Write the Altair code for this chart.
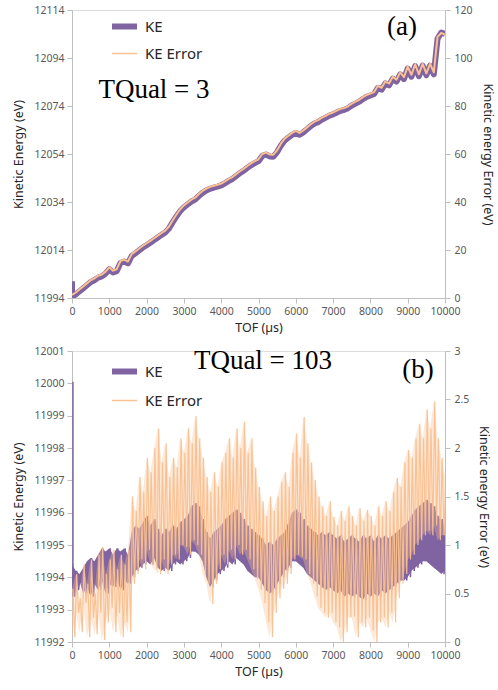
import altair as alt
import pandas as pd

PURPLE = "#8064A2"
ORANGE = "#FAC090"
SERIES = ["KE", "KE Error"]
LEGEND_WIDTHS = [6, 1.5]

X_TICKS = [0, 1000, 2000, 3000, 4000, 5000, 6000, 7000, 8000, 9000, 10000]
TOF = list(range(0, 10001, 100))  # sampling grid of the read values

# ---------- panel (a): TQual = 3 ----------
KE_A_SPIKE = 12001.0
KE_A = [
    11994.5, 11995.5, 11996.8, 11998.0, 11999.3, 12000.6, 12001.4, 12002.5, 12003.0, 12004.2,
    12006.0, 12004.6, 12005.2, 12008.6, 12009.2, 12008.4, 12011.5, 12012.6, 12013.8, 12015.0,
    12016.0, 12017.0, 12018.1, 12019.2, 12020.3, 12021.3, 12023.0, 12025.6, 12028.0, 12030.2,
    12031.8, 12033.0, 12034.2, 12035.0, 12036.5, 12037.8, 12038.8, 12039.5, 12040.0, 12040.4,
    12040.9, 12041.8, 12042.8, 12043.6, 12044.8, 12046.0, 12047.0, 12048.2, 12049.3, 12050.2,
    12051.0, 12053.2, 12053.8, 12053.0, 12052.9, 12054.8, 12057.5, 12059.6, 12060.8, 12062.0,
    12062.8, 12062.0, 12063.0, 12064.3, 12065.6, 12066.7, 12067.3, 12068.4, 12069.1, 12070.0,
    12070.5, 12071.3, 12072.0, 12072.4, 12073.1, 12074.2, 12075.0, 12075.8, 12076.9, 12077.8,
    12078.4, 12079.0, 12081.6, 12080.8, 12083.4, 12082.6, 12085.4, 12084.2, 12087.2, 12085.2,
    12089.6, 12086.2, 12090.6, 12086.4, 12090.8, 12086.8, 12090.8, 12087.2, 12102.0, 12104.6,
    12104.0,
]
ERR_A = [
    1.3, 2.3, 3.6, 4.8, 6.1, 7.4, 8.2, 9.3, 9.8, 11.0,
    12.8, 11.4, 12.0, 15.4, 16.0, 15.2, 18.3, 19.4, 20.6, 21.8,
    22.8, 23.8, 24.9, 26.0, 27.1, 28.1, 29.8, 32.4, 34.8, 37.0,
    38.6, 39.8, 41.0, 41.8, 43.3, 44.6, 45.6, 46.3, 46.8, 47.2,
    47.7, 48.6, 49.6, 50.4, 51.6, 52.8, 53.8, 55.0, 56.1, 57.0,
    57.8, 60.0, 60.6, 59.8, 59.7, 61.6, 64.3, 66.4, 67.6, 68.8,
    69.6, 68.8, 69.8, 71.1, 72.4, 73.5, 74.1, 75.2, 75.9, 76.8,
    77.3, 78.1, 78.8, 79.2, 79.9, 81.0, 81.8, 82.6, 83.7, 84.6,
    85.2, 85.8, 88.4, 87.6, 90.2, 89.4, 92.2, 91.0, 94.0, 92.0,
    96.4, 93.0, 97.4, 93.2, 97.6, 93.6, 97.6, 94.0, 108.8, 110.4,
    109.8,
]
KE_A_TICKS = [11994, 12014, 12034, 12054, 12074, 12094, 12114]
ERR_A_TICKS = [0, 20, 40, 60, 80, 100, 120]

# ---------- panel (b): TQual = 103 ----------
KE_B_SPIKE = 12000.05
KE_B_HI = [
    11994.4, 11994.2, 11994.1, 11994.3, 11994.5, 11994.6, 11994.5, 11994.7, 11994.9, 11994.8,
    11994.9, 11994.7, 11994.9, 11994.8, 11994.9, 11994.7, 11995.4, 11995.6, 11995.5, 11995.7,
    11995.9, 11995.6, 11995.8, 11995.5, 11995.3, 11995.5, 11995.4, 11995.6, 11995.5, 11995.7,
    11995.8, 11995.9, 11996.2, 11996.3, 11996.2, 11995.8, 11995.4, 11995.2, 11995.4, 11995.5,
    11995.6, 11995.8, 11995.9, 11996.0, 11996.1, 11996.0, 11995.8, 11995.6, 11995.5, 11995.4,
    11995.3, 11995.2, 11995.0, 11995.1, 11995.0, 11995.2, 11995.3, 11995.4, 11995.7, 11996.0,
    11996.1, 11996.0, 11995.8, 11995.6, 11995.5, 11995.4, 11995.3, 11995.4, 11995.3, 11995.4,
    11995.3, 11995.2, 11995.3, 11995.1, 11995.2, 11995.3, 11995.2, 11995.1, 11995.3, 11995.2,
    11995.3, 11995.1, 11995.3, 11995.2, 11995.3, 11995.2, 11995.3, 11995.4, 11995.5, 11995.6,
    11995.7, 11995.9, 11996.1, 11996.2, 11996.3, 11996.4, 11996.3, 11996.2, 11995.9, 11995.8,
    11995.6,
]
KE_B_LO = [
    11993.4, 11993.6, 11993.9, 11993.5, 11993.7, 11993.4, 11993.8, 11993.6, 11993.9, 11993.5,
    11993.8, 11993.7, 11994.0, 11993.6, 11993.9, 11993.8, 11994.0, 11994.2, 11994.3, 11994.4,
    11994.5, 11994.4, 11994.6, 11994.3, 11994.2, 11994.3, 11994.2, 11994.4, 11994.5, 11994.4,
    11994.5, 11994.6, 11994.8, 11994.8, 11994.7, 11994.5, 11994.0, 11993.7, 11993.9, 11994.1,
    11994.2, 11994.3, 11994.5, 11994.4, 11994.6, 11994.5, 11994.4, 11994.2, 11994.1, 11994.0,
    11994.0, 11993.8, 11993.6, 11993.5, 11993.6, 11993.8, 11994.0, 11994.2, 11994.3, 11994.5,
    11994.5, 11994.4, 11994.3, 11994.1, 11994.0, 11993.9, 11993.8, 11993.7, 11993.6, 11993.7,
    11993.6, 11993.5, 11993.6, 11993.4, 11993.5, 11993.4, 11993.5, 11993.4, 11993.3, 11993.5,
    11993.4, 11993.5, 11993.4, 11993.6, 11993.5, 11993.6, 11993.7, 11993.8, 11993.9, 11993.9,
    11994.0, 11994.2, 11994.3, 11994.4, 11994.5, 11994.5, 11994.4, 11994.3, 11994.2, 11994.1,
    11994.2,
]
ERR_B_HI = [
    0.55, 0.7, 0.45, 0.8, 0.6, 0.85, 0.5, 0.9, 0.98, 0.7,
    0.85, 0.95, 0.75, 0.9, 0.8, 0.95, 1.5, 1.35, 1.7, 1.55,
    1.9, 1.75, 2.0, 2.2, 1.85, 2.05, 1.7, 1.9, 1.8, 2.1,
    1.95, 2.2, 2.05, 2.33, 2.1, 1.9, 1.7, 1.55, 1.75, 1.6,
    1.85, 1.95, 2.1, 1.9, 2.2, 2.0, 2.27, 1.95, 2.1, 1.8,
    1.6, 1.45, 1.3, 1.5, 1.35, 1.5, 1.65, 1.75, 1.6, 1.95,
    2.15, 1.9, 2.32, 2.05, 1.85, 1.67, 1.5, 1.4, 1.3, 1.45,
    1.29, 1.2, 1.35, 1.25, 1.4, 1.3, 1.2, 1.38, 1.25, 1.36,
    1.3, 1.2, 1.4, 1.3, 1.45, 1.35, 1.55, 1.69, 1.6, 1.85,
    1.98, 1.9, 2.1, 2.25, 2.1, 2.4, 2.2, 2.48, 2.1, 1.9,
    1.7,
]
ERR_B_LO = [
    0.05, 0.3, 0.1, 0.4, 0.05, 0.25, 0.08, 0.3, 0.02, 0.2,
    0.35, 0.1, 0.3, 0.05, 0.2, 0.1, 0.6, 0.7, 0.85, 0.75,
    0.95, 0.8, 0.75, 0.7, 0.85, 0.7, 0.8, 0.9, 0.85, 1.0,
    0.98, 0.9, 1.05, 1.0, 0.9, 0.7, 0.6, 0.39, 0.6, 0.75,
    0.9, 0.8, 0.95, 0.85, 1.0, 0.9, 0.95, 0.85, 0.75, 0.65,
    0.54, 0.4, 0.2, 0.05, 0.3, 0.45, 0.55, 0.6, 0.7, 0.85,
    0.9, 0.88, 0.85, 0.7, 0.6, 0.47, 0.35, 0.3, 0.25, 0.3,
    0.2, 0.15, 0.0, 0.1, 0.25, 0.26, 0.05, 0.2, 0.15, 0.25,
    0.12, 0.0, 0.2, 0.25, 0.15, 0.3, 0.2, 0.45, 0.6, 0.7,
    0.85, 0.9, 1.0, 1.05, 1.1, 1.15, 1.1, 1.2, 1.05, 1.1,
    1.1,
]
KE_B_TICKS = [11992, 11993, 11994, 11995, 11996, 11997, 11998, 11999, 12000, 12001]
ERR_B_TICKS = [0, 0.5, 1, 1.5, 2, 2.5, 3]

# ---------- tables ----------
def rows_simple(ts, vs, spike=None):
    out = []
    if spike is not None:
        out.append({"t": ts[0], "v": spike})
    for t, v in zip(ts, vs):
        out.append({"t": t, "v": v})
    for i, r in enumerate(out):
        r["i"] = i
    return pd.DataFrame(out)

def rows_zigzag(ts, hi, lo, spike=None):
    out = []
    if spike is not None:
        out.append({"t": ts[0] + 25, "v": spike})
        out.append({"t": ts[0] + 25, "v": lo[0]})
    for t, h, l in zip(ts, hi, lo):
        out.append({"t": t + 25, "v": h})
        out.append({"t": t + 75, "v": l})
    for i, r in enumerate(out):
        r["i"] = i
    return pd.DataFrame(out)

def rows_band(ts, hi, lo):
    return pd.DataFrame({"t": ts, "hi": hi, "lo": lo})

df_ke_a = rows_simple(TOF, KE_A, KE_A_SPIKE)
df_err_a = rows_simple(TOF, ERR_A)
df_ke_b = rows_zigzag(TOF, KE_B_HI, KE_B_LO, KE_B_SPIKE)
df_err_b = rows_zigzag(TOF, ERR_B_HI, ERR_B_LO)
band_ke_b = rows_band(TOF, KE_B_HI, KE_B_LO)
band_err_b = rows_band(TOF, ERR_B_HI, ERR_B_LO)
df_legend = pd.DataFrame({"s": SERIES, "t": [None, None]})

FONT = "Noto Sans"
AX = dict(domainColor="#BFBFBF", tickColor="#BFBFBF", labelColor="#595959",
          labelFont=FONT, labelFontSize=10.5, titleFont=FONT, titleFontSize=12.5,
          titleFontWeight="normal", titleColor="#262626", grid=False, tickSize=5,
          labelFlush=False, labelOverlap=False)


def x_enc():
    return alt.X("t:Q", scale=alt.Scale(domain=[0, 10000], nice=False, zero=False),
                 axis=alt.Axis(values=X_TICKS, format="d", title="TOF (µs)",
                               labelPadding=3, titlePadding=5, **AX))


def make_legend(ly, gap):
    return alt.Legend(title=None, orient="none", legendX=37, legendY=ly,
                      symbolType="stroke", symbolSize=625,
                      labelFont=FONT, labelFontSize=15, labelColor="#262626",
                      labelOffset=5, rowPadding=gap, padding=0)


def legend_layer(ly, gap):
    return alt.Chart(df_legend).mark_line().encode(
        x=x_enc(),
        y=alt.value(0),
        color=alt.Color("s:N", scale=alt.Scale(domain=SERIES, range=[PURPLE, ORANGE]),
                        legend=make_legend(ly, gap)),
        strokeWidth=alt.StrokeWidth("s:N", scale=alt.Scale(domain=SERIES, range=LEGEND_WIDTHS),
                                    legend=make_legend(ly, gap)),
    )


def label_layer(text, px, py, size):
    return alt.Chart(pd.DataFrame({"label": [text]})).mark_text(
        font="Liberation Serif", fontSize=size, color="#000000", align="center", baseline="middle"
    ).encode(x=alt.value(px), y=alt.value(py), text="label:N")


def y_left(field, dom, ticks):
    ax = alt.Axis(orient="left", values=ticks, format="d", title="Kinetic Energy (eV)",
                  titlePadding=8, labelPadding=3, **AX)
    return alt.Y(field, scale=alt.Scale(domain=dom, nice=False, zero=False), axis=ax)


def y_right(field, dom, ticks, fmt):
    ax = alt.Axis(orient="right", values=ticks, format=fmt, title="Kinetic energy Error (eV)",
                  titlePadding=8, labelPadding=4, **AX)
    return alt.Y(field, scale=alt.Scale(domain=dom, nice=False, zero=False), axis=ax)


# panel (a)
ke_a = alt.Chart(df_ke_a).mark_line(color=PURPLE, strokeWidth=6, strokeJoin="round", clip=True).encode(
    x=x_enc(), y=y_left("v:Q", [11994, 12114], KE_A_TICKS), order="i:Q")
err_a = alt.Chart(df_err_a).mark_line(color=ORANGE, strokeWidth=2, strokeJoin="round", clip=True).encode(
    x=x_enc(), y=y_right("v:Q", [0, 120], ERR_A_TICKS, "d"), order="i:Q")
panel_a = alt.layer(
    ke_a, err_a, legend_layer(1, 1),
    label_layer("TQual = 3", 82, 80, 27), label_layer("(a)", 330, 17, 27),
).resolve_scale(y="independent").properties(width=373, height=288)

# panel (b)
ke_b_band = alt.Chart(band_ke_b).mark_area(color=PURPLE, opacity=1, clip=True).encode(
    x=x_enc(), y=y_left("lo:Q", [11992, 12001], KE_B_TICKS), y2="hi:Q")
ke_b_line = alt.Chart(df_ke_b).mark_line(color=PURPLE, strokeWidth=1.5, clip=True).encode(
    x=x_enc(), y=y_left("v:Q", [11992, 12001], KE_B_TICKS), order="i:Q")
err_b_band = alt.Chart(band_err_b).mark_area(color=ORANGE, opacity=0.35, clip=True).encode(
    x=x_enc(), y=y_right("lo:Q", [0, 3], ERR_B_TICKS, "~g"), y2="hi:Q")
err_b_line = alt.Chart(df_err_b).mark_line(color=ORANGE, strokeWidth=1.2, opacity=0.95, clip=True).encode(
    x=x_enc(), y=y_right("v:Q", [0, 3], ERR_B_TICKS, "~g"), order="i:Q")
panel_b = alt.layer(
    alt.layer(ke_b_band, ke_b_line), alt.layer(err_b_band, err_b_line), legend_layer(5, 3),
    label_layer("TQual = 103", 191, 10, 27), label_layer("(b)", 346, 19, 27),
).resolve_scale(y="independent").properties(width=373, height=291)

chart = alt.vconcat(panel_a, panel_b, spacing=10).resolve_scale(
    color="independent", strokeWidth="independent"
).properties(
    padding={"left": 12, "top": 4, "right": 4, "bottom": 4}
).configure_view(stroke=None).configure(background="white")

chart.save("out.html", embed_options={"renderer": "svg", "actions": False})
